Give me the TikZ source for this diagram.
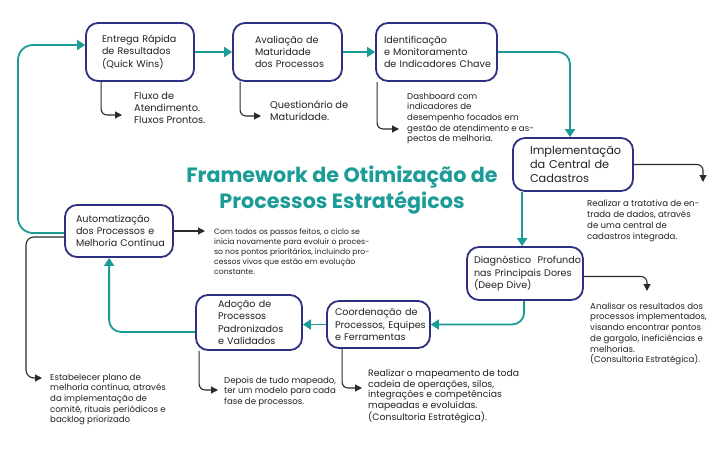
\documentclass[tikz,border=0pt]{standalone}
\usepackage{fontspec}
\setmainfont{Poppins}
\usetikzlibrary{arrows.meta,calc}
\hyphenpenalty=10000
\exhyphenpenalty=10000
\hbadness=10000
\hfuzz=100pt
\definecolor{navy}{HTML}{2D3080}
\definecolor{teal1}{HTML}{1B9C97}
\definecolor{ink}{HTML}{222222}
\definecolor{garrowc}{HTML}{2A2A2A}
\tikzset{
  box/.style={draw=navy, line width=1.8pt, rounded corners=12pt, align=left, inner ysep=2pt, text=ink, font=\fontsize{9.6}{12.3}\selectfont},
  desc/.style={anchor=north west, inner sep=0pt, align=left, text=ink, font=\fontsize{8.6}{10.7}\selectfont},
  tarrow/.style={draw=teal1, line width=1.8pt, rounded corners=12pt, -{Triangle[length=8pt,width=10pt]}},
  garrow/.style={draw=garrowc, line width=1.1pt, rounded corners=6pt, -{Triangle[length=7pt,width=7pt]}},
}
\begin{document}
\begin{tikzpicture}[x=1pt,y=-1pt]
\useasboundingbox (0,0) rectangle (720,450);
\fill[white] (0,0) rectangle (720,450);

% boxes
\node[box, minimum width=108pt, minimum height=58pt, inner xsep=16pt, text width=76pt] (b1) at (140,52) {\mbox{Entrega Rápida}\\\mbox{de Resultados}\\\mbox{(Quick Wins)}};
\node[box, minimum width=109pt, minimum height=58pt, inner xsep=22pt, text width=65pt] (b2) at (287.5,52) {\mbox{Avaliação de}\\\mbox{Maturidade}\\\mbox{dos Processos}};
\node[box, minimum width=121pt, minimum height=58pt, inner xsep=8pt, text width=105pt] (b3) at (436.5,52) {\mbox{Identificação}\\\mbox{e Monitoramento}\\\mbox{de Indicadores Chave}};
\node[box, minimum width=120pt, minimum height=53pt, inner xsep=17pt, text width=86pt, font=\fontsize{11.3}{14}\selectfont] (b4) at (573,164.5) {\mbox{Implementação}\\\mbox{da Central de}\\\mbox{Cadastros}};
\node[box, minimum width=116pt, minimum height=53pt, inner xsep=7pt, text width=102pt] (b5) at (525,273.5) {\mbox{Diagnóstico\ \ Profundo}\\\mbox{nas Principais Dores}\\\mbox{(Deep Dive)}};
\node[box, minimum width=103pt, minimum height=47pt, inner xsep=8pt, text width=87pt] (b6) at (378.5,324.5) {\mbox{Coordenação de}\\\mbox{Processos, Equipes}\\\mbox{e Ferramentas}};
\node[box, minimum width=106pt, minimum height=55pt, inner xsep=22pt, text width=62pt] (b7) at (249,322.5) {\mbox{Adoção de}\\\mbox{Processos}\\\mbox{Padronizados}\\\mbox{e Validados}};
\node[box, minimum width=108pt, minimum height=52pt, inner xsep=11pt, text width=86pt] (b8) at (119,231) {\mbox{Automatização}\\\mbox{dos Processos e}\\\mbox{Melhoria Contínua}};

% title
\node[align=center, text=teal1, font=\fontsize{20.7}{26.5}\selectfont\bfseries] (title) at (342,190) {Framework de Otimização de\\Processos Estratégicos};

% descriptions
\node[desc, font=\fontsize{9.8}{12}\selectfont] (d1) at (134,92) {Fluxo de\\Atendimento.\\Fluxos Prontos.};
\node[desc, font=\fontsize{9.8}{12}\selectfont] (d2) at (270,101) {Questionário de\\Maturidade.};
\node[desc] (d3) at (407,92.5) {Dashboard com\\indicadores de\\desempenho focados em\\gestão de atendimento e as-\\pectos de melhoria.};
\node[desc, font=\fontsize{8.6}{11}\selectfont] (d4) at (587,199.5) {Realizar a tratativa de en-\\trada de dados, através\\de uma central de\\cadastros integrada.};
\node[desc] (d5) at (590,302.5) {Analisar os resultados dos\\processos implementados,\\visando encontrar pontos\\de gargalo, ineficiências e\\melhorias.\\(Consultoria Estratégica).};
\node[desc, font=\fontsize{9.3}{10.8}\selectfont] (d6) at (368,369) {Realizar o mapeamento de toda\\cadeia de operações, silos,\\integrações e competências\\mapeadas e evoluídas.\\(Consultoria Estratégica).};
\node[desc] (d7) at (224,376.5) {Depois de tudo mapeado,\\ter um modelo para cada\\fase de processos.};
\node[desc] (d8) at (50,373.5) {Estabelecer plano de\\melhoria contínua, através\\da implementação de\\comitê, rituais periódicos e\\backlog priorizado};
\node[desc, font=\fontsize{7.7}{10.2}\selectfont] (d9) at (214,228) {Com todos os passos feitos, o ciclo se\\inicia novamente para evoluir o proces-\\so nos pontos prioritários, incluindo pro-\\cessos vivos que estão em evolução\\constante.};

% arrow tips
\coordinate (e1) at (122,115);
\coordinate (e2) at (261,116);
\coordinate (e3) at (399,129);
\coordinate (e4) at (703,182);
\coordinate (e5) at (647,291);
\coordinate (e6) at (362,388);
\coordinate (e7) at (218,390);
\coordinate (e8) at (42,378);
\coordinate (e9) at (205,231);
\coordinate (c8) at (18,45);

% teal flow
\draw[tarrow] (b1) -- (b2);
\draw[tarrow] (b2) -- (b3);
\draw[tarrow] (b3.east) -| ([xshift=-3pt]b4.north);
\draw[tarrow] ([xshift=10pt]b4.south west) coordinate (p4) -- (p4 |- b5.north);
\draw[tarrow] ([xshift=58pt]b5.south west) |- (b6.east);
\draw[tarrow] (b6.west) -- (b6.west -| b7.east);
\draw[tarrow] ([yshift=-9.5pt]b7.west) -| ([xshift=45pt]b8.south west);
\draw[tarrow, rounded corners=15pt] ([yshift=-2pt]b8.west) -| (c8) -- ([yshift=7pt]b1.west);

% gray side arrows
\draw[garrow] ([xshift=16pt]b1.south west) |- (e1);
\draw[garrow] ([xshift=8pt]b2.south west) |- (e2);
\draw[garrow] ([xshift=2pt]b3.south west) |- (e3);
\draw[garrow] (b4.east) -| (e4);
\draw[garrow] ([yshift=-3pt]b5.east) -| (e5);
\draw[garrow] ([xshift=16pt]b6.south west) |- (e6);
\draw[garrow] ([xshift=4pt]b7.south west) |- (e7);
\draw[garrow, rounded corners=8pt] ([yshift=-6pt]b8.west) -| ([xshift=-16pt]e8) -- (e8);
\draw[garrow] (b8.east) -- (e9);
\end{tikzpicture}
\end{document}
